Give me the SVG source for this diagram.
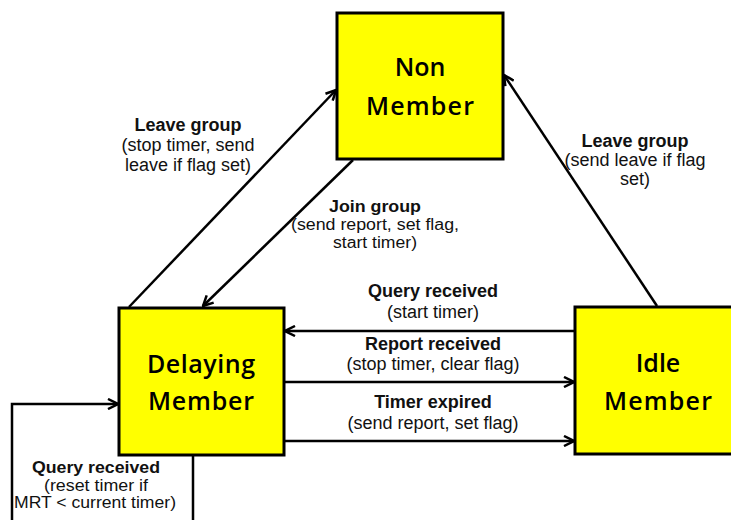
<svg xmlns="http://www.w3.org/2000/svg" width="731" height="520" viewBox="0 0 731 520">
<style>
.box{fill:#ffff00;stroke:#000;stroke-width:3}
.nt{font-family:"Open Sans","Liberation Sans",sans-serif;font-weight:600;font-size:25px;fill:#000;text-anchor:middle}
.lt{font-family:"Liberation Sans",Arial,sans-serif;font-size:18px;fill:#111;text-anchor:middle}
.sm{font-size:16px}
.lb{font-weight:bold}
.ln{fill:none;stroke:#000;stroke-width:2.5;marker-end:url(#ah)}
</style>
<defs>
<marker id="ah" viewBox="0 0 12 12" refX="11" refY="6" markerWidth="12" markerHeight="12" markerUnits="userSpaceOnUse" orient="auto">
<path d="M1,1 L11,6 L1,11" fill="none" stroke="#000" stroke-width="2.5"/>
</marker>
</defs>
<rect width="731" height="520" fill="#fff"/>
<g id="connectors">
<line class="ln" x1="129" y1="307" x2="336" y2="90"/>
<line class="ln" x1="353" y1="160" x2="203" y2="306"/>
<line class="ln" x1="657" y1="306" x2="504" y2="75"/>
<line class="ln" x1="575" y1="331" x2="285" y2="331"/>
<line class="ln" x1="285" y1="382" x2="574" y2="382"/>
<line class="ln" x1="285" y1="441" x2="574" y2="441"/>
<path class="ln" d="M193,455 V530 H12 V404 H118"/>
</g>
<g id="non-member">
<rect class="box" x="337" y="13" width="166" height="146"/>
<text class="nt" x="420" y="76">Non</text>
<text class="nt" x="420" y="115" textLength="108">Member</text>
</g>
<g id="delaying-member">
<rect class="box" x="119" y="308" width="165" height="147"/>
<text class="nt" x="201" y="373" textLength="108">Delaying</text>
<text class="nt" x="201" y="410" textLength="106">Member</text>
</g>
<g id="idle-member">
<rect class="box" x="575" y="307" width="170" height="147"/>
<text class="nt" x="658" y="372">Idle</text>
<text class="nt" x="658" y="410" textLength="108">Member</text>
</g>
<g id="labels">
<text class="lt lb" x="188" y="131">Leave group</text>
<text class="lt" x="188" y="151">(stop timer, send</text>
<text class="lt" x="188" y="171">leave if flag set)</text>
<text class="lt lb" x="635" y="147">Leave group</text>
<text class="lt" x="635" y="166">(send leave if flag</text>
<text class="lt" x="635" y="185">set)</text>
<text class="lt lb sm" x="375" y="212" textLength="92" lengthAdjust="spacingAndGlyphs">Join group</text>
<text class="lt sm" x="375" y="230" textLength="168" lengthAdjust="spacingAndGlyphs">(send report, set flag,</text>
<text class="lt sm" x="375" y="248" textLength="84" lengthAdjust="spacingAndGlyphs">start timer)</text>
<text class="lt lb" x="433" y="297">Query received</text>
<text class="lt" x="433" y="318">(start timer)</text>
<text class="lt lb" x="433" y="350">Report received</text>
<text class="lt" x="433" y="370">(stop timer, clear flag)</text>
<text class="lt lb" x="433" y="408">Timer expired</text>
<text class="lt" x="433" y="429">(send report, set flag)</text>
<text class="lt lb sm" x="96" y="473" textLength="128" lengthAdjust="spacingAndGlyphs">Query received</text>
<text class="lt sm" x="96" y="491" textLength="104" lengthAdjust="spacingAndGlyphs">(reset timer if</text>
<text class="lt sm" x="95" y="508" textLength="162" lengthAdjust="spacingAndGlyphs">MRT &lt; current timer)</text>
</g>
</svg>
